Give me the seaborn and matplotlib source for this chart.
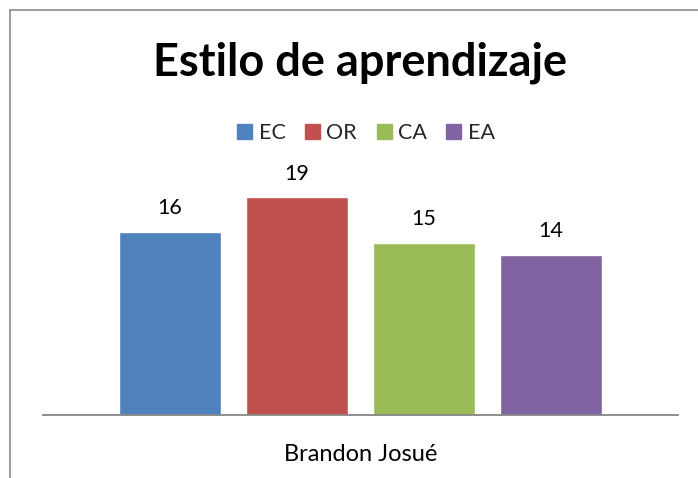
import matplotlib
matplotlib.use("Agg")
import matplotlib.pyplot as plt
import seaborn as sns
import pandas as pd
from matplotlib.lines import Line2D

# Data
categories = ["Brandon Josué"]
series = ["EC", "OR", "CA", "EA"]
values = [16, 19, 15, 14]
colors = ["#4F81BD", "#C0504D", "#9BBB59", "#8064A2"]
title = "Estilo de aprendizaje"

df = pd.DataFrame({
    "persona": categories * len(series),
    "estilo": series,
    "valor": values,
})

sns.set_theme(style="white")
plt.rcParams["font.family"] = ["Lato", "DejaVu Sans"]

W, H = 698, 478
fig = plt.figure(figsize=(W / 100, H / 100), dpi=100)
ax = fig.add_axes([43 / W, (H - 415) / H, 635 / W, (415 - 186) / H])

sns.barplot(data=df, x="persona", y="valor", hue="estilo",
            palette=colors, width=0.8, gap=0.2, ax=ax, legend=False,
            saturation=1)

ax.set_ylim(0, 20)
ax.set_xlim(-0.5, 0.5)
ax.set_ylabel("")
ax.set_xlabel("")
ax.set_yticks([])
for s in ["top", "right", "left"]:
    ax.spines[s].set_visible(False)
ax.spines["bottom"].set_color("#868686")
ax.spines["bottom"].set_linewidth(1.3)
ax.tick_params(axis="x", length=0, pad=21, labelsize=17, colors="black")

for c in ax.containers:
    ax.bar_label(c, padding=10, fontsize=15.5, color="black")

# Title
fig.text(360 / W, 1 - 63 / H, title, ha="center", va="center",
         fontsize=32.5, fontweight="bold", color="black")

# Legend
handles = [plt.Rectangle((0, 0), 1, 1, color=c) for c in colors]
fig.legend(handles, series, loc="center", bbox_to_anchor=(366 / W, 1 - 133 / H),
           ncol=4, frameon=False, fontsize=15.5, handlelength=0.7,
           handleheight=0.7, handletextpad=0.3, columnspacing=0.9)

# Outer border (gray, open at right/bottom)
fig.add_artist(Line2D([10 / W, 10 / W], [0, 1 - 10 / H], transform=fig.transFigure,
                      color="#8C8C8C", linewidth=1.2))
fig.add_artist(Line2D([10 / W, 1], [1 - 10 / H, 1 - 10 / H], transform=fig.transFigure,
                      color="#8C8C8C", linewidth=1.2))

fig.savefig("out.png", dpi=100)
